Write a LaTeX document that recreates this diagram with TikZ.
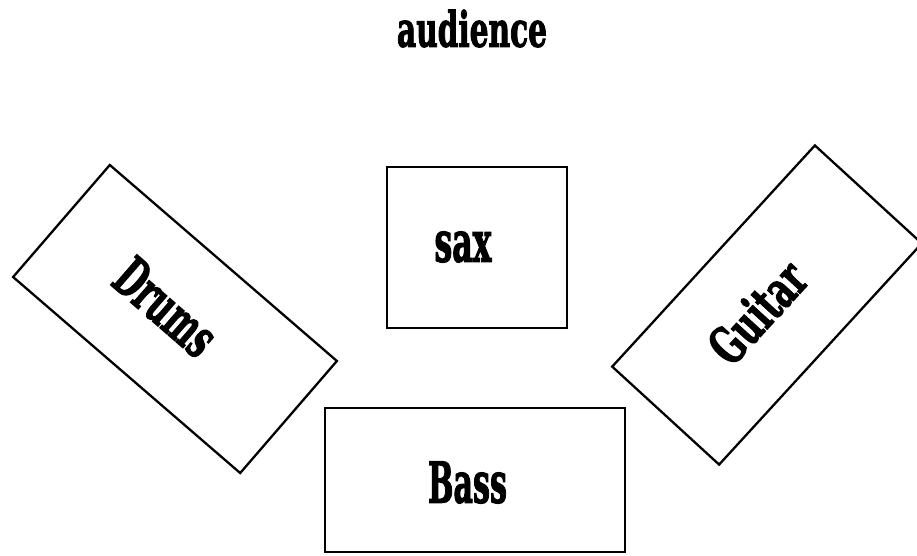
\documentclass[tikz,border=0pt]{standalone}
\usepackage{fontspec}
\usepackage{graphicx}
\newfontfamily\posterfont{DejaVu Serif}[FakeBold=2.5]
\begin{document}
\begin{tikzpicture}[x=1pt,y=-1pt,
  box/.style={draw=black,line width=2.3pt,inner sep=0pt},
  lbl/.style={inner sep=0pt,font=\posterfont\bfseries}]
\useasboundingbox[fill=white] (0,0) rectangle (917,556);
\node[box, minimum width=300pt, minimum height=148pt, rotate=-40.8] (drums) at (175,319) {};
\node[box, minimum width=300pt, minimum height=145pt, rotate=47.5] (guitar) at (767,305) {};
\node[box, minimum width=180pt, minimum height=161pt] (sax) at (477,247.5) {};
\node[box, minimum width=300pt, minimum height=144pt] (bass) at (475,480) {};
\node[lbl] (audlbl) at (472,28.5) {\resizebox{150pt}{37pt}{audience}};
\node[lbl] (saxlbl) at (463,247) {\resizebox{57pt}{30pt}{sax}};
\node[lbl] (basslbl) at (467.5,482.5) {\resizebox{79pt}{41pt}{Bass}};
\node[lbl, rotate=-41] (drumslbl) at (166,307) {\resizebox{116pt}{40pt}{Drums}};
\node[lbl, rotate=47.5] (guitarlbl) at (757,312) {\resizebox{117pt}{39pt}{Guitar}};
\end{tikzpicture}
\end{document}
